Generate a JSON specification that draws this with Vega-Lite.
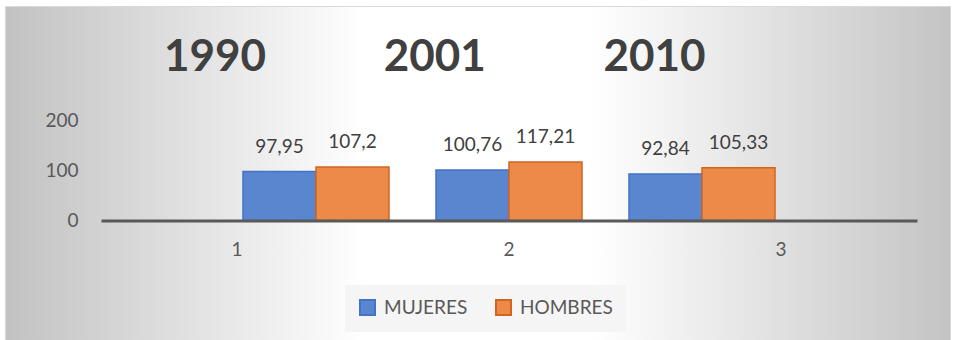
{
  "$schema": "https://vega.github.io/schema/vega-lite/v6.json",
  "width": 945,
  "height": 334,
  "autosize": {"type": "none"},
  "padding": {"left": 5, "top": 6, "right": 5, "bottom": 0},
  "background": "white",
  "title": {
    "text": "1990\u00a0\u00a0\u00a0\u00a0\u00a0\u00a0\u00a0\u00a0\u00a0\u00a0\u00a02001\u00a0\u00a0\u00a0\u00a0\u00a0\u00a0\u00a0\u00a0\u00a0\u00a0\u00a02010",
    "anchor": "start",
    "frame": "group",
    "dx": 159,
    "offset": -109,
    "baseline": "alphabetic",
    "font": "Lato",
    "fontSize": 44,
    "fontWeight": "bold",
    "color": "#404040"
  },
  "datasets": {
    "indice": [
      {"periodo": "1", "sexo": "MUJERES", "valor": 97.95},
      {"periodo": "1", "sexo": "HOMBRES", "valor": 107.2},
      {"periodo": "2", "sexo": "MUJERES", "valor": 100.76},
      {"periodo": "2", "sexo": "HOMBRES", "valor": 117.21},
      {"periodo": "3", "sexo": "MUJERES", "valor": 92.84},
      {"periodo": "3", "sexo": "HOMBRES", "valor": 105.33}
    ]
  },
  "data": {"name": "indice"},
  "layer": [
    {
      "mark": {"type": "tick", "opacity": 0},
      "encoding": {
        "x": {
          "field": "periodo",
          "type": "ordinal",
          "scale": {"range": [96, 912], "paddingInner": 0, "paddingOuter": 0},
          "axis": {
            "orient": "bottom",
            "offset": -119.5,
            "zindex": 1,
            "title": null,
            "grid": false,
            "ticks": false,
            "labelAngle": 0,
            "labelPadding": 20,
            "labelFontSize": 19,
            "labelColor": "#595959",
            "domainColor": "#595959",
            "domainWidth": 3
          }
        }
      }
    },
    {
      "encoding": {
        "x": {
          "field": "periodo",
          "type": "ordinal",
          "scale": {"range": [214.5, 793.5], "paddingInner": 0.2435, "paddingOuter": 0.12175},
          "axis": null
        },
        "xOffset": {
          "field": "sexo",
          "scale": {"domain": ["MUJERES", "HOMBRES"], "paddingInner": 0, "paddingOuter": 0}
        },
        "y": {
          "field": "valor",
          "type": "quantitative",
          "scale": {"domain": [0, 200], "range": [214.5, 114.5], "nice": false},
          "axis": {
            "values": [0, 100, 200],
            "offset": -90,
            "title": null,
            "grid": false,
            "domain": false,
            "ticks": false,
            "labelPadding": 17,
            "labelFontSize": 19,
            "labelColor": "#595959"
          }
        }
      },
      "layer": [
        {
          "mark": {"type": "bar", "strokeWidth": 1.5},
          "encoding": {
            "fill": {
              "field": "sexo",
              "type": "nominal",
              "scale": {"domain": ["MUJERES", "HOMBRES"], "range": ["#5A86D0", "#EE8A48"]},
              "legend": {
                "orient": "none",
                "legendX": 340,
                "legendY": 279,
                "direction": "horizontal",
                "title": null,
                "fillColor": "#f5f5f5",
                "padding": 13,
                "symbolType": "square",
                "symbolSize": 225,
                "symbolStrokeWidth": 2,
                "labelFontSize": 19,
                "labelColor": "#595959",
                "labelOffset": 7,
                "columnPadding": 24
              }
            },
            "stroke": {
              "field": "sexo",
              "type": "nominal",
              "scale": {"domain": ["MUJERES", "HOMBRES"], "range": ["#4472C4", "#D0651F"]}
            }
          }
        },
        {
          "mark": {"type": "text", "dy": -19, "baseline": "alphabetic", "fontSize": 19, "color": "#404040"},
          "encoding": {
            "text": {"field": "valor", "type": "quantitative", "format": "~g"}
          }
        }
      ]
    }
  ],
  "resolve": {"scale": {"x": "independent"}},
  "config": {
    "font": "Lato",
    "locale": {
      "number": {"decimal": ",", "thousands": ".", "grouping": [3], "currency": ["", " €"]}
    },
    "view": {
      "stroke": "#d9d9d9",
      "fill": {
        "gradient": "linear",
        "x1": 0, "y1": 0, "x2": 1, "y2": 0,
        "stops": [
          {"offset": 0, "color": "#c2c2c2"},
          {"offset": 0.38, "color": "#ffffff"},
          {"offset": 0.62, "color": "#ffffff"},
          {"offset": 1, "color": "#c4c4c4"}
        ]
      }
    }
  }
}
